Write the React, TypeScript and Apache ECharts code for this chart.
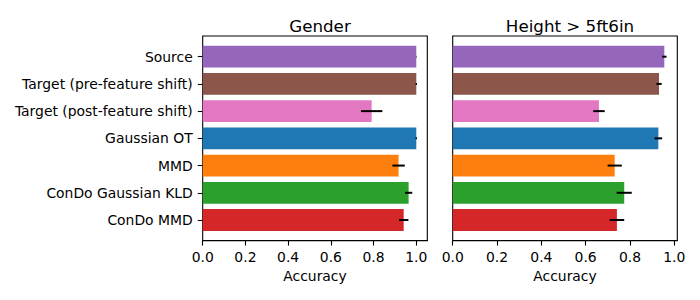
import React, { useEffect, useRef } from "react";
import * as echarts from "echarts";

const categories = [
  "Source",
  "Target (pre-feature shift)",
  "Target (post-feature shift)",
  "Gaussian OT",
  "MMD",
  "ConDo Gaussian KLD",
  "ConDo MMD",
];
const barColors = ["#9467bd", "#8c564b", "#e377c2", "#1f77b4", "#ff7f0e", "#2ca02c", "#d62728"];
const genderMeans = [1.0, 1.0, 0.791, 1.0, 0.917, 0.964, 0.941];
const genderErrs = [0.001, 0.003, 0.05, 0.003, 0.029, 0.017, 0.022];
const heightMeans = [0.955, 0.931, 0.66, 0.928, 0.731, 0.774, 0.741];
const heightErrs = [0.01, 0.012, 0.026, 0.017, 0.032, 0.034, 0.033];
const xTicks = [0, 0.2, 0.4, 0.6, 0.8, 1.0];
const panelTitles = ["Gender", "Height > 5ft6in"];
const xAxisName = "Accuracy";

const FONT = "DejaVu Sans";
const FS = 13.9;

export default function App() {
  const ref = useRef<HTMLDivElement>(null);
  useEffect(() => {
    if (!ref.current) return;
    const chart = echarts.init(ref.current, null, { renderer: "svg" });

    const panels = [
      { left: 202.7, right: 272.7, xmax: 1.0515, means: genderMeans, errs: genderErrs, showY: true },
      { left: 452.7, right: 22.7, xmax: 1.0135, means: heightMeans, errs: heightErrs, showY: false },
    ];
    const outerTop = 36;
    const outerBottom = 300 - 240.7;
    const outerH = 240.7 - 36;
    const unit = outerH / 7.52;
    const inset = 0.26 * unit;

    const grid: any[] = [];
    const xAxis: any[] = [];
    const yAxis: any[] = [];
    const series: any[] = [];
    const title: any[] = [];

    panels.forEach((p, i) => {
      const gOuter = grid.length;
      grid.push({
        left: p.left, right: p.right, top: outerTop, bottom: outerBottom,
        show: true, borderColor: "#000", borderWidth: 1.1, backgroundColor: "transparent",
      });
      grid.push({
        left: p.left, right: p.right, top: outerTop + inset, bottom: outerBottom + inset,
      });
      xAxis.push({
        type: "value", gridIndex: gOuter, min: 0, max: p.xmax,
        name: xAxisName, nameLocation: "middle", nameGap: 27,
        nameTextStyle: { fontFamily: FONT, fontSize: FS, color: "#000" },
        axisLine: { show: true, lineStyle: { color: "#000", width: 1.1 } },
        axisTick: { show: true, length: 4.9, lineStyle: { color: "#000", width: 1.1 }, customValues: xTicks },
        axisLabel: {
          customValues: xTicks, margin: 9, fontFamily: FONT, fontSize: FS, color: "#000",
          formatter: (v: number) => v.toFixed(1),
        },
        splitLine: { show: false },
      });
      yAxis.push({ type: "value", gridIndex: gOuter, show: false, min: 0, max: 1 });
      xAxis.push({ type: "value", gridIndex: gOuter + 1, min: 0, max: p.xmax, show: false });
      yAxis.push({
        type: "category", gridIndex: gOuter + 1, data: categories, inverse: true,
        axisLine: { show: false },
        axisTick: { show: p.showY, alignWithLabel: true, length: 4.9, lineStyle: { color: "#000", width: 1.1 } },
        axisLabel: { show: p.showY, margin: 10, fontFamily: FONT, fontSize: FS, color: "#000" },
        splitLine: { show: false },
      });
      series.push({
        type: "bar", xAxisIndex: gOuter + 1, yAxisIndex: gOuter + 1, barWidth: "80%",
        data: p.means.map((m, k) => ({ value: m, itemStyle: { color: barColors[k] } })),
      });
      series.push({
        type: "custom", xAxisIndex: gOuter + 1, yAxisIndex: gOuter + 1,
        encode: { x: [1, 2], y: 0 },
        data: p.means.map((m, k) => [k, m - p.errs[k], m + p.errs[k]]),
        renderItem: (params: any, api: any) => {
          const c = api.value(0);
          const a = api.coord([api.value(1), c]);
          const b = api.coord([api.value(2), c]);
          return {
            type: "line",
            shape: { x1: a[0], y1: a[1], x2: b[0], y2: b[1] },
            style: { stroke: "#000", lineWidth: 2 },
          };
        },
        z: 5,
      });
      const width = 700 - p.left - p.right;
      title.push({
        text: panelTitles[i], left: p.left + width / 2, top: 12, textAlign: "center",
        textStyle: { fontFamily: FONT, fontSize: 16.7, fontWeight: "normal", color: "#000" },
      });
    });

    chart.setOption({ animation: false, title, grid, xAxis, yAxis, series });
    return () => chart.dispose();
  }, []);
  return (
    <div
      ref={ref}
      style={{ position: "fixed", left: 0, top: 0, width: 700, height: 300, background: "#fff" }}
    />
  );
}
